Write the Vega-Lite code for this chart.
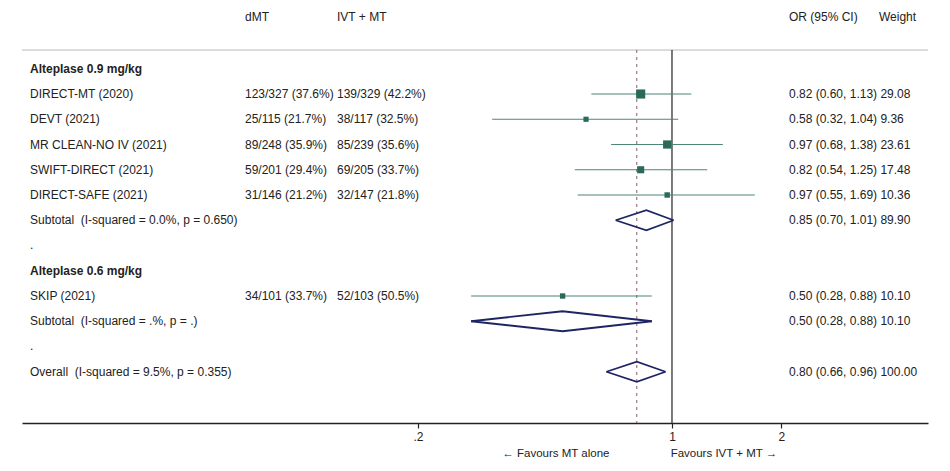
{
  "$schema": "https://vega.github.io/schema/vega-lite/v6.json",
  "width": 906,
  "height": 423,
  "autosize": "none",
  "padding": {"left": 22, "top": 0, "right": 22, "bottom": 48},
  "background": "white",
  "config": {
    "font": "Liberation Sans",
    "view": {"stroke": null},
    "text": {"font": "Liberation Sans", "fontSize": 12, "color": "#222222"}
  },
  "datasets": {
    "rows": [
      {"row": 0, "type": "group", "label": "Alteplase 0.9 mg/kg"},
      {"row": 1, "type": "study", "label": "DIRECT-MT (2020)", "dmt": "123/327 (37.6%)", "ivt": "139/329 (42.2%)", "est": 0.82, "lo": 0.60, "hi": 1.13, "weight": 29.08, "result": "0.82 (0.60, 1.13) 29.08"},
      {"row": 2, "type": "study", "label": "DEVT (2021)", "dmt": "25/115 (21.7%)", "ivt": "38/117 (32.5%)", "est": 0.58, "lo": 0.32, "hi": 1.04, "weight": 9.36, "result": "0.58 (0.32, 1.04) 9.36"},
      {"row": 3, "type": "study", "label": "MR CLEAN-NO IV (2021)", "dmt": "89/248 (35.9%)", "ivt": "85/239 (35.6%)", "est": 0.97, "lo": 0.68, "hi": 1.38, "weight": 23.61, "result": "0.97 (0.68, 1.38) 23.61"},
      {"row": 4, "type": "study", "label": "SWIFT-DIRECT (2021)", "dmt": "59/201 (29.4%)", "ivt": "69/205 (33.7%)", "est": 0.82, "lo": 0.54, "hi": 1.25, "weight": 17.48, "result": "0.82 (0.54, 1.25) 17.48"},
      {"row": 5, "type": "study", "label": "DIRECT-SAFE (2021)", "dmt": "31/146 (21.2%)", "ivt": "32/147 (21.8%)", "est": 0.97, "lo": 0.55, "hi": 1.69, "weight": 10.36, "result": "0.97 (0.55, 1.69) 10.36"},
      {"row": 6, "type": "subtotal", "label": "Subtotal\u00a0 (I-squared = 0.0%, p = 0.650)", "est": 0.85, "lo": 0.70, "hi": 1.01, "weight": 89.90, "result": "0.85 (0.70, 1.01) 89.90"},
      {"row": 7, "type": "blank", "label": "."},
      {"row": 8, "type": "group", "label": "Alteplase 0.6 mg/kg"},
      {"row": 9, "type": "study", "label": "SKIP (2021)", "dmt": "34/101 (33.7%)", "ivt": "52/103 (50.5%)", "est": 0.50, "lo": 0.28, "hi": 0.88, "weight": 10.10, "result": "0.50 (0.28, 0.88) 10.10"},
      {"row": 10, "type": "subtotal", "label": "Subtotal\u00a0 (I-squared = .%, p = .)", "est": 0.50, "lo": 0.28, "hi": 0.88, "weight": 10.10, "result": "0.50 (0.28, 0.88) 10.10"},
      {"row": 11, "type": "blank", "label": "."},
      {"row": 12, "type": "overall", "label": "Overall\u00a0 (I-squared = 9.5%, p = 0.355)", "est": 0.80, "lo": 0.66, "hi": 0.96, "weight": 100.00, "result": "0.80 (0.66, 0.96) 100.00"}
    ],
    "one": [{}]
  },
  "data": {"name": "rows"},
  "encoding": {
    "x": {"type": "quantitative", "scale": {"type": "log", "domain": [0.01626, 5.065], "nice": false, "zero": false}, "axis": {"values": [0.2, 1, 2], "labelExpr": "datum.value < 1 ? '.' + substring(datum.label, 2) : datum.label", "format": "~g", "domainColor": "#222222", "domainWidth": 1.3, "tickColor": "#222222", "tickSize": 5, "tickWidth": 1.2, "labelFont": "Liberation Sans", "labelFontSize": 12, "labelColor": "#222222", "labelPadding": 3, "grid": false, "title": null, "orient": "bottom"}},
    "y": {"type": "quantitative", "scale": {"domain": [-2.723, 14.03], "reverse": true, "nice": false, "zero": false}, "axis": null}
  },
  "layer": [
    {
      "data": {"name": "one"},
      "mark": {"type": "rule", "color": "#d0d0d0", "strokeWidth": 1.5},
      "encoding": {"y": {"datum": -0.743}}
    },
    {
      "data": {"name": "one"},
      "mark": {"type": "rule", "color": "#222222", "strokeWidth": 1.2},
      "encoding": {
        "x": {"datum": 1},
        "y": {"datum": -0.743},
        "y2": {"datum": 14.03}
      }
    },
    {
      "transform": [{"filter": "datum.type == 'overall'"}],
      "mark": {"type": "rule", "color": "#8a5a6e", "strokeWidth": 1, "strokeDash": [3, 4]},
      "encoding": {
        "x": {"field": "est"},
        "y": {"datum": -0.743},
        "y2": {"datum": 14.03}
      }
    },
    {
      "transform": [{"filter": "datum.type == 'study'"}],
      "mark": {"type": "rule", "color": "#4d8677", "strokeWidth": 1.2},
      "encoding": {
        "x": {"field": "lo"},
        "x2": {"field": "hi"},
        "y": {"field": "row"}
      }
    },
    {
      "transform": [{"filter": "datum.type == 'study'"}],
      "mark": {"type": "point", "shape": "square", "filled": true, "color": "#2b6a5b", "opacity": 1},
      "encoding": {
        "x": {"field": "est"},
        "y": {"field": "row"},
        "size": {"field": "weight", "type": "quantitative", "scale": {"domain": [0, 30], "range": [0, 86], "zero": true}, "legend": null}
      }
    },
    {
      "transform": [
        {"filter": "datum.type == 'subtotal' || datum.type == 'overall'"},
        {"fold": ["lo", "est", "hi"], "as": ["key", "value"]}
      ],
      "mark": {"type": "line", "color": "#1e2563", "strokeWidth": 1.8, "strokeJoin": "miter", "yOffset": {"expr": "datum.key == 'est' ? -10 : 0"}},
      "encoding": {
        "x": {"field": "value"},
        "y": {"field": "row"},
        "detail": {"field": "row", "type": "nominal"},
        "order": {"field": "value", "type": "quantitative"}
      }
    },
    {
      "transform": [
        {"filter": "datum.type == 'subtotal' || datum.type == 'overall'"},
        {"fold": ["lo", "est", "hi"], "as": ["key", "value"]}
      ],
      "mark": {"type": "line", "color": "#1e2563", "strokeWidth": 1.8, "strokeJoin": "miter", "yOffset": {"expr": "datum.key == 'est' ? 10 : 0"}},
      "encoding": {
        "x": {"field": "value"},
        "y": {"field": "row"},
        "detail": {"field": "row", "type": "nominal"},
        "order": {"field": "value", "type": "quantitative"}
      }
    },
    {
      "transform": [{"filter": "datum.type != 'group'"}],
      "mark": {"type": "text", "align": "left", "baseline": "middle"},
      "encoding": {
        "x": {"datum": 0.01711},
        "y": {"field": "row"},
        "text": {"field": "label"}
      }
    },
    {
      "transform": [{"filter": "datum.type == 'group'"}],
      "mark": {"type": "text", "align": "left", "baseline": "middle", "fontWeight": "bold"},
      "encoding": {
        "x": {"datum": 0.01711},
        "y": {"field": "row"},
        "text": {"field": "label"}
      }
    },
    {
      "transform": [{"filter": "datum.type == 'study'"}],
      "mark": {"type": "text", "align": "left", "baseline": "middle"},
      "encoding": {
        "x": {"datum": 0.0668},
        "y": {"field": "row"},
        "text": {"field": "dmt"}
      }
    },
    {
      "transform": [{"filter": "datum.type == 'study'"}],
      "mark": {"type": "text", "align": "left", "baseline": "middle"},
      "encoding": {
        "x": {"datum": 0.1197},
        "y": {"field": "row"},
        "text": {"field": "ivt"}
      }
    },
    {
      "transform": [{"filter": "isValid(datum.result)"}],
      "mark": {"type": "text", "align": "left", "baseline": "middle"},
      "encoding": {
        "x": {"datum": 2.099},
        "y": {"field": "row"},
        "text": {"field": "result"}
      }
    },
    {
      "data": {"name": "one"},
      "mark": {"type": "text", "align": "left", "baseline": "middle"},
      "encoding": {"x": {"datum": 0.0668}, "y": {"datum": -2.05}, "text": {"value": "dMT"}}
    },
    {
      "data": {"name": "one"},
      "mark": {"type": "text", "align": "left", "baseline": "middle"},
      "encoding": {"x": {"datum": 0.1197}, "y": {"datum": -2.05}, "text": {"value": "IVT + MT"}}
    },
    {
      "data": {"name": "one"},
      "mark": {"type": "text", "align": "left", "baseline": "middle"},
      "encoding": {"x": {"datum": 2.099}, "y": {"datum": -2.05}, "text": {"value": "OR (95% CI)"}}
    },
    {
      "data": {"name": "one"},
      "mark": {"type": "text", "align": "left", "baseline": "middle"},
      "encoding": {"x": {"datum": 3.713}, "y": {"datum": -2.05}, "text": {"value": "Weight"}}
    },
    {
      "data": {"name": "one"},
      "mark": {"type": "text", "align": "center", "baseline": "middle", "fontSize": 11.5},
      "encoding": {"x": {"datum": 0.479}, "y": {"datum": 15.26}, "text": {"value": "\u2190 Favours MT alone"}}
    },
    {
      "data": {"name": "one"},
      "mark": {"type": "text", "align": "center", "baseline": "middle", "fontSize": 11.5},
      "encoding": {"x": {"datum": 1.39}, "y": {"datum": 15.26}, "text": {"value": "Favours IVT + MT \u2192"}}
    }
  ]
}
